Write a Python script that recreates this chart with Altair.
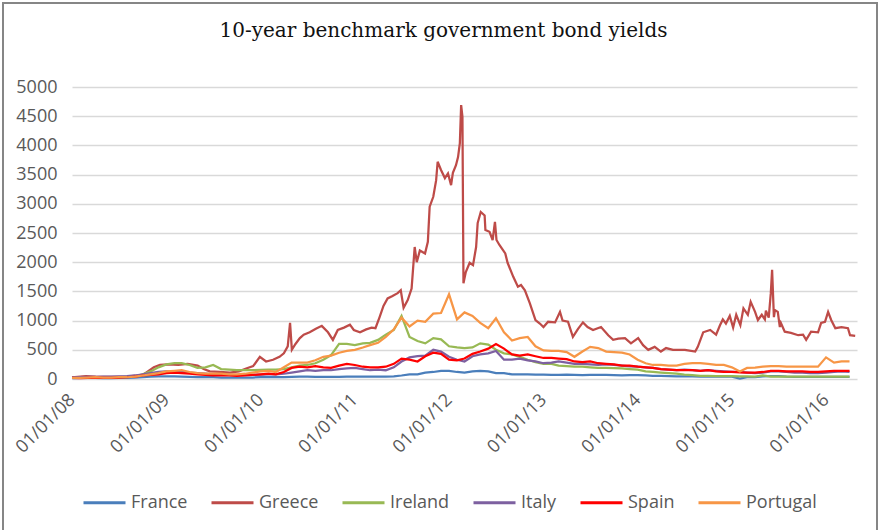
import altair as alt
import pandas as pd

# Spread over German Bund, basis points
SERIES = ["France", "Greece", "Ireland", "Italy", "Spain", "Portugal"]
COLORS = ["#4a7ebb", "#be4b48", "#98b954", "#7d60a0", "#ff0000", "#f79646"]

# Month-start observations, Jan 2008 .. Apr 2016
MONTHS = pd.date_range("2008-01-01", periods=100, freq="MS")

FRANCE = [
    15, 20, 25, 20, 15, 15, 20, 20, 25, 30, 40, 45,
    45, 45, 40, 35, 30, 30, 30, 25, 25, 25, 25, 25,
    30, 30, 30, 30, 35, 40, 40, 35, 35, 35, 35, 40,
    40, 40, 40, 40, 40, 45, 60, 80, 80, 110, 120, 140,
    140, 120, 110, 130, 140, 130, 100, 100, 80, 80, 80, 75,
    75, 70, 70, 75, 70, 65, 70, 70, 70, 65, 60, 65,
    65, 60, 55, 55, 50, 45, 45, 45, 40, 40, 40, 40,
    40, 5, 30, 30, 45, 50, 50, 40, 35, 35, 35, 35,
    35, 35, 35, 35,
]
IRELAND = [
    20, 25, 30, 25, 25, 25, 30, 35, 40, 80, 130, 200,
    250, 270, 270, 240, 190, 200, 240, 170, 160, 150, 150, 150,
    155, 160, 160, 170, 200, 230, 240, 270, 330, 410, 600, 600,
    580, 610, 620, 670, 760, 840, 1080, 720, 650, 610, 700, 680,
    560, 540, 530, 540, 610, 590, 500, 440, 420, 380, 330, 290,
    260, 260, 230, 220, 210, 210, 200, 190, 190, 185, 180, 170,
    160, 130, 120, 110, 100, 90, 75, 65, 55, 55, 50, 50,
    50, 45, 45, 40, 60, 40, 40, 40, 40, 40, 40, 40,
    40, 40, 40, 40,
]
ITALY = [
    30, 30, 35, 35, 40, 40, 45, 50, 60, 80, 100, 120,
    130, 120, 120, 110, 100, 90, 80, 75, 70, 70, 70, 70,
    75, 80, 80, 90, 110, 130, 150, 140, 150, 150, 170, 180,
    190, 170, 150, 160, 150, 200, 300, 370, 390, 400, 500, 470,
    380, 330, 300, 390, 420, 440, 480, 330, 330, 350, 320, 300,
    270, 280, 300, 280, 260, 260, 250, 240, 250, 240, 230, 215,
    210, 200, 190, 170, 160, 150, 160, 150, 140, 150, 140, 130,
    120, 120, 110, 100, 110, 130, 130, 120, 110, 110, 100, 100,
    110, 120, 130, 120,
]
SPAIN = [
    20, 15, 20, 25, 20, 20, 25, 30, 40, 60, 70, 80,
    100, 110, 100, 90, 80, 70, 60, 60, 60, 55, 60, 70,
    80, 90, 80, 120, 190, 210, 200, 220, 200, 190, 230, 260,
    240, 210, 200, 200, 210, 260, 350, 330, 300, 390, 450, 430,
    330, 320, 350, 430, 470, 520, 600, 520, 420, 400, 420, 390,
    360, 360, 350, 340, 300, 290, 300, 270, 260, 250, 230, 230,
    210, 200, 190, 170, 160, 150, 150, 150, 140, 150, 130, 120,
    120, 115, 110, 110, 120, 140, 140, 130, 130, 130, 120, 120,
    130, 140, 140, 140,
]
PORTUGAL = [
    20, 20, 25, 30, 25, 25, 30, 30, 40, 60, 80, 100,
    130, 140, 150, 120, 100, 90, 90, 90, 80, 80, 90, 110,
    130, 140, 120, 200, 280, 280, 280, 320, 380, 400, 450, 480,
    500, 540, 580, 620, 720, 850, 1050, 900, 1000, 980, 1120, 1130,
    1450, 1020, 1140, 1080, 960, 870, 1040, 800, 660, 700, 720, 560,
    490, 480, 480, 460, 380, 470, 550, 530, 470, 460, 450, 420,
    330, 270, 240, 240, 230, 230, 260, 270, 270, 260, 240, 240,
    200, 130, 190, 195, 210, 220, 220, 210, 210, 210, 210, 210,
    370, 280, 300, 300,
]

# Greece is sampled more densely around its spikes
GREECE_DATES = [
    "2008-01-01", "2008-02-24", "2008-04-02", "2008-06-01", "2008-08-04", "2008-10-01",
    "2008-10-21", "2008-11-13", "2008-12-07",
    "2009-01-07", "2009-02-16", "2009-03-24", "2009-05-02", "2009-05-25", "2009-06-18",
    "2009-07-26", "2009-09-04", "2009-10-09", "2009-11-06", "2009-12-03", "2009-12-29",
    "2010-01-22", "2010-02-18", "2010-03-15", "2010-04-01", "2010-04-16", "2010-04-25",
    "2010-05-02", "2010-05-16", "2010-06-02", "2010-06-17", "2010-07-10", "2010-08-03",
    "2010-08-26", "2010-09-19", "2010-10-08", "2010-10-27", "2010-11-20", "2010-12-13",
    "2010-12-28",
    "2011-01-21", "2011-02-14", "2011-03-07", "2011-03-22", "2011-04-07", "2011-04-22",
    "2011-05-08", "2011-05-27", "2011-06-16", "2011-06-28", "2011-07-09", "2011-07-25",
    "2011-08-09", "2011-08-21", "2011-08-29", "2011-09-10", "2011-09-30", "2011-10-11",
    "2011-10-18", "2011-11-01", "2011-11-12", "2011-11-18", "2011-12-01", "2011-12-16",
    "2011-12-28",
    "2012-01-09", "2012-01-16", "2012-01-28", "2012-02-05", "2012-02-12", "2012-02-17",
    "2012-02-22", "2012-02-26", "2012-03-06", "2012-03-21", "2012-04-03", "2012-04-15",
    "2012-04-21", "2012-05-03", "2012-05-18", "2012-05-21", "2012-06-06", "2012-06-18",
    "2012-06-27", "2012-07-03", "2012-07-15", "2012-08-06", "2012-08-15", "2012-09-06",
    "2012-09-24", "2012-10-06", "2012-10-21", "2012-11-09", "2012-12-01", "2012-12-18",
    "2013-01-01", "2013-01-19", "2013-02-15", "2013-03-06", "2013-03-16", "2013-04-06",
    "2013-04-25", "2013-05-15", "2013-06-03", "2013-06-21", "2013-07-12", "2013-08-12",
    "2013-09-09", "2013-09-28", "2013-10-18", "2013-11-13", "2013-12-06",
    "2014-01-03", "2014-01-22", "2014-02-11", "2014-03-08", "2014-04-01", "2014-04-21",
    "2014-05-18", "2014-07-03", "2014-08-12", "2014-08-22", "2014-09-12", "2014-10-09",
    "2014-11-01", "2014-11-16", "2014-11-27", "2014-12-09", "2014-12-24",
    "2015-01-06", "2015-01-18", "2015-02-03", "2015-02-15", "2015-03-04", "2015-03-15",
    "2015-04-01", "2015-04-12", "2015-04-27", "2015-05-09", "2015-05-13", "2015-05-24",
    "2015-06-01", "2015-06-06", "2015-06-13", "2015-06-17", "2015-06-28", "2015-07-06",
    "2015-07-10", "2015-07-25", "2015-08-18", "2015-09-15", "2015-10-04", "2015-10-16",
    "2015-11-04", "2015-12-01", "2015-12-13", "2015-12-28",
    "2016-01-09", "2016-01-21", "2016-02-06", "2016-03-01", "2016-03-26", "2016-04-03",
    "2016-04-23",
]
GREECE = [
    30, 50, 40, 35, 40, 70, 130, 200, 240,
    250, 240, 260, 230, 170, 130, 120, 110, 130, 180, 220, 380,
    300, 330, 380, 440, 560, 960, 500, 600, 700, 760, 800, 860, 910, 800, 670, 840,
    880, 930, 840,
    800, 850, 880, 870, 1060, 1250, 1380, 1420, 1470, 1520, 1220, 1350, 1550, 2260,
    2000, 2200, 2150, 2350, 2950, 3120, 3400, 3720, 3580, 3440, 3520,
    3320, 3530, 3660, 3800, 4040, 4690, 4490, 1640, 1830, 1990, 1950, 2260, 2670,
    2860, 2800, 2550, 2520, 2380, 2690, 2380, 2290, 2150, 1990, 1750, 1580, 1610,
    1520, 1300, 1010, 950,
    890, 980, 970, 1150, 1000, 980, 720, 860, 970, 890, 840, 890, 750, 670, 690, 700, 610,
    700, 580, 500, 550, 470, 530, 500, 500, 470, 550, 800, 840, 760, 920, 1020, 950, 1080,
    880, 1100, 920, 1210, 1100, 1320, 1150, 1010, 1100, 1020, 1170, 1050, 1470, 1870,
    1060, 1180, 1150, 890, 960, 810, 790, 750, 760, 670, 810, 800, 960, 980,
    1150, 1010, 870, 890, 870, 750, 740,
]

Y_TICKS = list(range(0, 5001, 500))
X_TICKS = [alt.DateTime(year=y, month=1, date=1) for y in range(2008, 2017)]


def monthly(name, values):
    return pd.DataFrame({"date": MONTHS, "country": name, "bp": values})


data = pd.concat(
    [
        monthly("France", FRANCE),
        pd.DataFrame({"date": pd.to_datetime(GREECE_DATES), "country": "Greece", "bp": GREECE}),
        monthly("Ireland", IRELAND),
        monthly("Italy", ITALY),
        monthly("Spain", SPAIN),
        monthly("Portugal", PORTUGAL),
    ],
    ignore_index=True,
)

lines = alt.Chart(data).mark_line(strokeWidth=2.25).encode(
    x=alt.X(
        "date:T",
        scale=alt.Scale(
            domain=[alt.DateTime(year=2008, month=1, date=1),
                    alt.DateTime(year=2016, month=4, date=30)]
        ),
        axis=alt.Axis(
            values=X_TICKS, format="%d/%m/%y", labelAngle=-45,
            labelAlign="right", labelBaseline="middle", labelPadding=18,
            grid=False, ticks=False, domain=False, title=None,
        ),
    ),
    y=alt.Y(
        "bp:Q",
        scale=alt.Scale(domain=[0, 5000]),
        axis=alt.Axis(
            values=Y_TICKS, format="d", title=None, ticks=False, domain=False,
            labelPadding=15, gridColor="#d9d9d9", gridWidth=1.5,
        ),
    ),
    color=alt.Color(
        "country:N",
        scale=alt.Scale(domain=SERIES, range=COLORS),
        legend=alt.Legend(
            orient="none", legendX=10, legendY=393, direction="horizontal",
            columns=6, title=None, symbolType="stroke", symbolSize=1764,
            symbolStrokeWidth=3, labelFontSize=18, labelColor="#595959",
            labelFont="Open Sans", columnPadding=17, labelOffset=4,
        ),
    ),
)

frame = alt.Chart(pd.DataFrame({"k": [0]})).mark_rect(
    fillOpacity=0, stroke="#868686", strokeWidth=2
).encode(
    x=alt.value(-69), x2=alt.value(805), y=alt.value(-84), y2=alt.value(460)
)

chart = alt.layer(frame, lines).properties(
    width=785,
    height=292,
    title=alt.TitleParams(
        "10-year benchmark government bond yields",
        font="DejaVu Serif", fontSize=20, fontWeight="normal", color="#111111",
        anchor="middle", frame="group", dx=-21, offset=-39,
    ),
    autosize=alt.AutoSizeParams(type="none"),
    padding={"left": 72, "top": 87, "right": 23, "bottom": 151},
).configure_axis(
    labelFont="Open Sans", labelFontSize=18, labelColor="#595959"
).configure_view(stroke="transparent")

chart.save("out.html", embed_options={"renderer": "svg", "actions": False})
